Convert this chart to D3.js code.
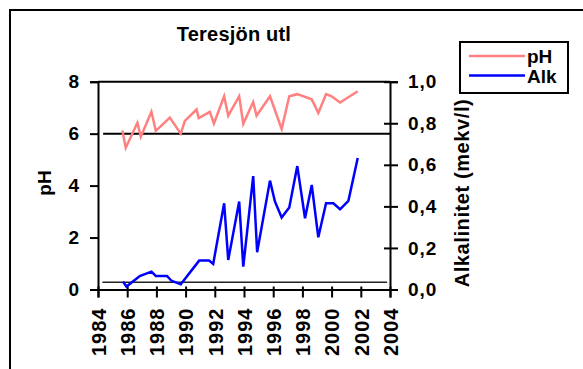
<!DOCTYPE html>
<html>
<head>
<meta charset="utf-8">
<script src="https://cdn.jsdelivr.net/npm/d3@7"></script>
<style>
  body { margin: 0; background: #fff; }
  text { font-family: "Liberation Sans", Arial, sans-serif; font-weight: bold; }
</style>
</head>
<body>
<div id="chart-area"></div>
<script>
// Teresjön utl - pH and alkalinity

var phYears = [1985.67, 1985.9, 1986.7, 1986.93, 1987.66, 1987.96, 1988.92, 1989.67, 1989.95,
    1990.75, 1990.9, 1991.66, 1991.94, 1992.64, 1992.92, 1993.67, 1993.95, 1994.63, 1994.86,
    1995.78, 1996.58, 1997.1, 1997.65, 1998.64, 1999.09, 1999.62, 2000.0, 2000.58, 2001.79];
var phValues = [6.12, 5.46, 6.42, 5.88, 6.84, 6.11, 6.62, 6.0, 6.49,
    6.93, 6.6, 6.84, 6.39, 7.44, 6.69, 7.44, 6.38, 7.22, 6.69,
    7.44, 6.18, 7.44, 7.52, 7.32, 6.8, 7.52, 7.44, 7.2, 7.63];

var alkYears = [1985.71, 1985.95, 1986.86, 1987.66, 1987.96, 1988.73, 1989.03, 1989.67, 1990.93,
    1991.61, 1991.89, 1992.64, 1992.92, 1993.67, 1993.95, 1994.63, 1994.9, 1995.78, 1996.12,
    1996.58, 1997.1, 1997.65, 1998.18, 1998.64, 1999.09, 1999.62, 2000.12, 2000.58, 2001.15, 2001.79];
var alkValues = [0.038, 0.014, 0.065, 0.086, 0.065, 0.065, 0.042, 0.025, 0.139,
    0.139, 0.123, 0.415, 0.142, 0.423, 0.11, 0.546, 0.179, 0.524, 0.423,
    0.346, 0.395, 0.594, 0.343, 0.503, 0.251, 0.415, 0.415, 0.386, 0.427, 0.633];

// reference levels
var phLimit = { value: 6.0, from: 1984.35, to: 2004 };
var alkLimit = { value: 0.035, from: 1984.3, to: 2003.8 };

var xTicks = d3.range(1984, 2005, 2);
var phTicks = [0, 2, 4, 6, 8];
var alkTicks = [0, 0.2, 0.4, 0.6, 0.8, 1.0];

var title = "Teresjön utl";
var seriesNames = ["pH", "Alk"];
var seriesColors = ["#ff8080", "#0000ff"];

var width = 583, height = 369;
var plot = { left: 98, right: 390, top: 81.7, bottom: 289.5 };

var svg = d3.select("#chart-area")
    .append("svg")
        .attr("width", width)
        .attr("height", height);

// outer chart border (cut off on right/bottom)
svg.append("rect")
    .attr("x", 10).attr("y", 10)
    .attr("width", 700).attr("height", 500)
    .attr("fill", "none")
    .attr("stroke", "#000")
    .attr("stroke-width", 2);

// Scales
var x = d3.scaleLinear().domain([1984, 2004]).range([plot.left, plot.right]);
var yPh = d3.scaleLinear().domain([0, 8]).range([plot.bottom, plot.top]);
var yAlk = d3.scaleLinear().domain([0, 1]).range([plot.bottom, plot.top]);

// Title
svg.append("text")
    .attr("x", 234)
    .attr("y", 41)
    .attr("text-anchor", "middle")
    .attr("font-size", "20px")
    .attr("letter-spacing", "0.2px")
    .text(title);

// plot top border
svg.append("line")
    .attr("x1", plot.left).attr("x2", plot.right)
    .attr("y1", plot.top).attr("y2", plot.top)
    .attr("stroke", "#000").attr("stroke-width", 2);

// Left axis
var yAxisCall = d3.axisLeft(yPh)
    .tickValues(phTicks)
    .tickSize(8)
    .tickPadding(10)
    .tickFormat(d3.format("d"));
var leftAxis = svg.append("g")
    .attr("transform", "translate(" + plot.left + ",0)")
    .call(yAxisCall);

// Right axis
var yAlkCall = d3.axisRight(yAlk)
    .tickValues(alkTicks)
    .tickSize(8)
    .tickPadding(10)
    .tickFormat(function(d) { return d3.format(".1f")(d).replace(".", ","); });
var rightAxis = svg.append("g")
    .attr("transform", "translate(" + plot.right + ",0)")
    .call(yAlkCall);
rightAxis.selectAll(".tick line").attr("x1", -6);

// Bottom axis
var xAxisCall = d3.axisBottom(x)
    .tickValues(xTicks)
    .tickSize(8)
    .tickFormat(d3.format("d"));
var bottomAxis = svg.append("g")
    .attr("transform", "translate(0," + plot.bottom + ")")
    .call(xAxisCall);
bottomAxis.selectAll(".tick line").attr("y1", -3);

[leftAxis, rightAxis, bottomAxis].forEach(function(a) {
    a.select(".domain").attr("stroke", "#000").attr("stroke-width", 2);
    a.selectAll(".tick line").attr("stroke", "#000").attr("stroke-width", 2);
    a.selectAll(".tick text")
        .attr("fill", "#000")
        .attr("font-size", "19px")
        .attr("letter-spacing", "1px")
        .attr("font-family", "Liberation Sans, Arial, sans-serif")
        .attr("font-weight", "bold");
});
bottomAxis.selectAll(".tick text")
    .attr("transform", "rotate(-90)")
    .attr("text-anchor", "end")
    .attr("x", -18)
    .attr("y", 0)
    .attr("dy", "0.36em")
    .attr("font-size", "20px");

// Axis titles
svg.append("text")
    .attr("transform", "translate(51,183) rotate(-90)")
    .attr("text-anchor", "middle")
    .attr("font-size", "19px")
    .text("pH");
svg.append("text")
    .attr("transform", "translate(469,193) rotate(-90)")
    .attr("text-anchor", "middle")
    .attr("font-size", "20px")
    .attr("letter-spacing", "0.6px")
    .text("Alkalinitet (mekv/l)");

// Reference lines
svg.append("line")
    .attr("x1", x(phLimit.from)).attr("x2", x(phLimit.to))
    .attr("y1", yPh(phLimit.value)).attr("y2", yPh(phLimit.value))
    .attr("stroke", "#000").attr("stroke-width", 2);
svg.append("line")
    .attr("x1", x(alkLimit.from)).attr("x2", x(alkLimit.to))
    .attr("y1", yAlk(alkLimit.value)).attr("y2", yAlk(alkLimit.value))
    .attr("stroke", "#222").attr("stroke-width", 1.3);

// Series
var phData = phYears.map(function(d, i) { return { year: d, value: phValues[i] }; });
var alkData = alkYears.map(function(d, i) { return { year: d, value: alkValues[i] }; });

var phLine = d3.line()
    .x(function(d) { return x(d.year); })
    .y(function(d) { return yPh(d.value); });
var alkLine = d3.line()
    .x(function(d) { return x(d.year); })
    .y(function(d) { return yAlk(d.value); });

svg.append("path")
    .datum(phData)
    .attr("d", phLine)
    .attr("fill", "none")
    .attr("stroke", seriesColors[0])
    .attr("stroke-width", 2.5)
    .attr("stroke-linejoin", "miter");
svg.append("path")
    .datum(alkData)
    .attr("d", alkLine)
    .attr("fill", "none")
    .attr("stroke", seriesColors[1])
    .attr("stroke-width", 2.5)
    .attr("stroke-linejoin", "miter");

// Legend
var legend = svg.append("g").attr("transform", "translate(460,42)");
legend.append("rect")
    .attr("width", 108).attr("height", 51)
    .attr("fill", "#fff")
    .attr("stroke", "#000")
    .attr("stroke-width", 2);
seriesNames.forEach(function(name, i) {
    legend.append("line")
        .attr("x1", 9).attr("x2", 65)
        .attr("y1", 14 + i * 19.5).attr("y2", 14 + i * 19.5)
        .attr("stroke", seriesColors[i])
        .attr("stroke-width", 2.5);
    legend.append("text")
        .attr("x", 67)
        .attr("y", 21 + i * 19.5)
        .attr("font-size", "19px")
        .text(name);
});
</script>
</body>
</html>
